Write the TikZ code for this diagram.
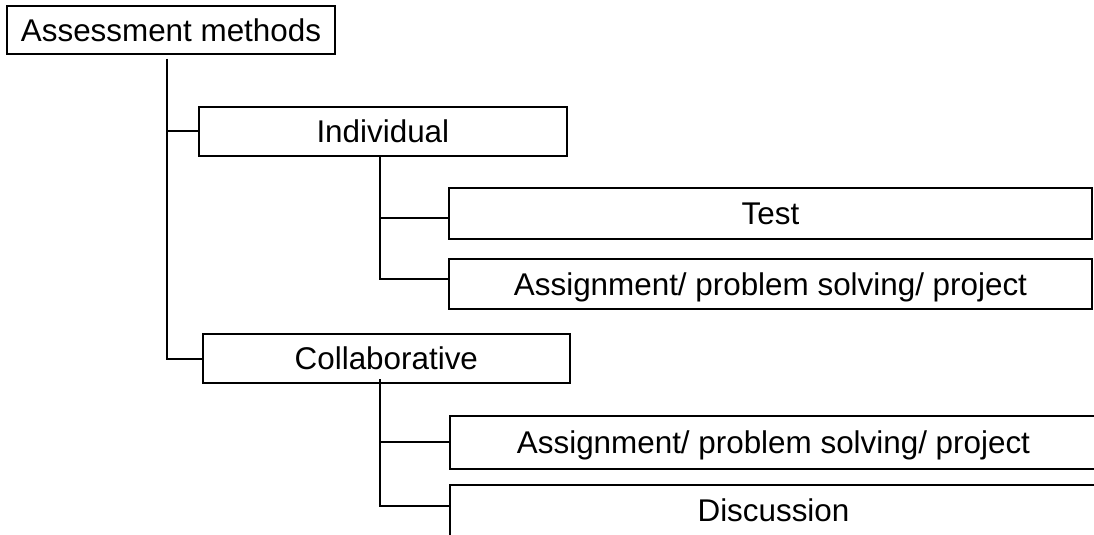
\documentclass[tikz,border=0pt]{standalone}
\usepackage{fontspec}
\setmainfont{Liberation Sans}
\usepackage{tikz}
\usetikzlibrary{positioning}

\begin{document}
\begin{tikzpicture}[
  box/.style={draw, line width=1pt, outer sep=0pt, inner sep=0pt, align=center, font=\fontsize{15.7}{18}\selectfont, text height=15.7pt, text depth=4.4pt},
  link/.style={line width=1pt}]
\clip (0,0) rectangle (547pt,-267.5pt);
\node[box, minimum width=164pt, minimum height=24.3pt, anchor=north west] (root) at (3.5pt,-2.85pt) {Assessment methods};
\node[box, minimum width=183.85pt, minimum height=24.2pt, below right=26.5pt and 96pt of root.south west] (indiv) {Individual};
\node[box, minimum width=321.2pt, minimum height=25.2pt, below right=16.3pt and 125.15pt of indiv.south west] (test) {Test};
\node[box, minimum width=321.2pt, minimum height=25.15pt, below=10.15pt of test] (assign1) {Assignment/ problem solving/ project};
\node[box, minimum width=183.65pt, minimum height=24.35pt, below right=89.3pt and 1.85pt of indiv.south west] (collab) {Collaborative};
\node[box, minimum width=323.5pt, minimum height=26.65pt, below right=16.35pt and 123.65pt of collab.south west] (assign2) {Assignment/ problem solving/ project};
\node[box, minimum width=323.5pt, minimum height=25.5pt, below=8pt of assign2] (disc) {Discussion};
\draw[link] ([xshift=-1.85pt,yshift=-2.35pt]root.south) |- (indiv.west);
\draw[link] ([xshift=-1.85pt,yshift=-2.35pt]root.south) |- (collab.west);
\draw[link] ([xshift=-1.4pt]indiv.south) |- ([yshift=-2.4pt]test.west);
\draw[link] ([xshift=-1.4pt]indiv.south) |- ([yshift=2.45pt]assign1.west);
\draw[link] ([xshift=-3.2pt,yshift=2pt]collab.south) |- (assign2.west);
\draw[link] ([xshift=-3.2pt,yshift=2pt]collab.south) |- ([yshift=2.25pt]disc.west);
\end{tikzpicture}
\end{document}
